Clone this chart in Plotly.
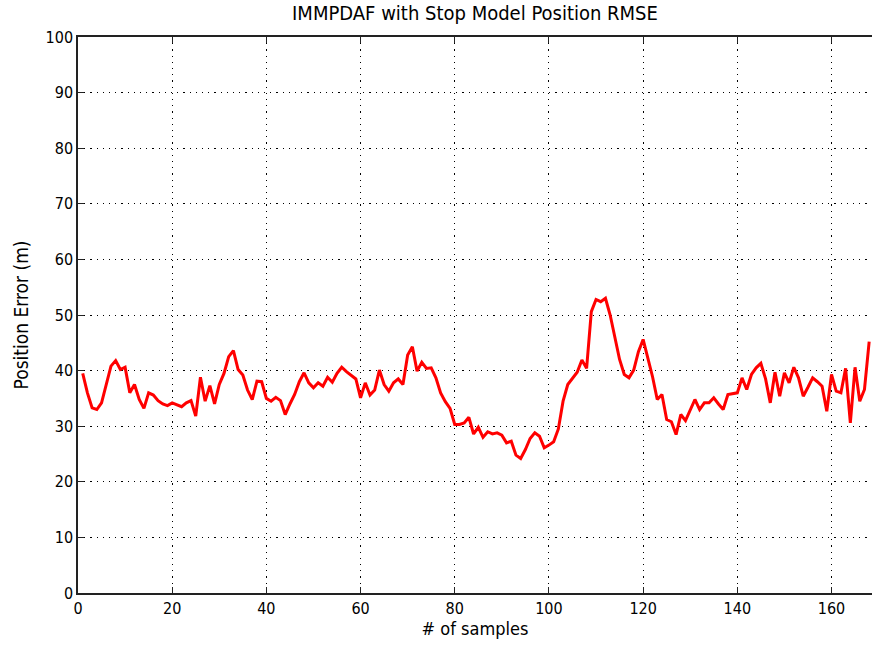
import plotly.graph_objects as go

# Position RMSE per sample for the IMMPDAF tracker with stop model
samples = list(range(1, 169))
rmse = [
    39.5, 36.0, 33.3, 33.0, 34.2, 37.5, 40.8, 41.8, 40.2, 40.6,
    36.0, 37.5, 34.8, 33.2, 36.0, 35.6, 34.6, 34.0, 33.7, 34.2,
    33.8, 33.5, 34.2, 34.6, 31.8, 38.8, 34.5, 37.3, 34.0, 37.5,
    39.5, 42.5, 43.6, 40.2, 39.2, 36.5, 34.8, 38.1, 38.0, 35.0,
    34.5, 35.2, 34.6, 32.1, 34.0, 35.7, 38.0, 39.6, 37.8, 36.9,
    37.8, 37.2, 38.8, 37.9, 39.5, 40.6, 39.8, 39.2, 38.5, 35.1,
    37.8, 35.6, 36.5, 40.1, 37.5, 36.3, 37.8, 38.5, 37.5, 42.8,
    44.3, 39.9, 41.5, 40.4, 40.5, 38.7, 36.0, 34.4, 33.2, 30.3,
    30.3, 30.6, 31.6, 28.6, 29.8, 28.0, 29.0, 28.6, 28.8, 28.4,
    27.0, 27.3, 24.8, 24.2, 25.8, 27.8, 28.8, 28.2, 26.1, 26.6,
    27.2, 29.5, 34.5, 37.5, 38.7, 39.7, 41.9, 40.4, 50.6, 52.8,
    52.4, 53.0, 50.0, 46.0, 42.0, 39.3, 38.7, 40.1, 43.4, 45.6,
    42.5, 38.9, 34.8, 35.7, 31.2, 30.8, 28.5, 32.1, 31.0, 33.0,
    34.8, 33.0, 34.2, 34.2, 35.1, 34.0, 33.0, 35.7, 35.8, 36.0,
    38.7, 36.6, 39.3, 40.5, 41.3, 38.5, 34.2, 39.7, 35.4, 39.6,
    37.8, 40.6, 38.7, 35.4, 37.0, 38.7, 38.0, 37.2, 32.7, 39.3,
    36.3, 36.0, 40.4, 30.6, 40.6, 34.5, 36.6, 45.2,
]

x_ticks = [0, 20, 40, 60, 80, 100, 120, 140, 160]
y_ticks = [0, 10, 20, 30, 40, 50, 60, 70, 80, 90, 100]

font_family = "DejaVu Sans Condensed, Liberation Sans Narrow, Liberation Sans, Arial"

fig = go.Figure(
    go.Scatter(
        x=samples,
        y=rmse,
        mode="lines",
        line=dict(color="#ff0000", width=3),
        showlegend=False,
    )
)

axis_common = dict(
    showline=True,
    linecolor="#222222",
    linewidth=1.5,
    ticks="inside",
    ticklen=6,
    tickcolor="#222222",
    showgrid=True,
    gridcolor="black",
    gridwidth=1.2,
    griddash="1.2px,5px",
    zeroline=False,
    tickfont=dict(family=font_family, size=16, color="black"),
)

# top border with ticks; the right border falls outside the visible page
fig.update_xaxes(
    range=[0, 168.6],
    tickvals=x_ticks,
    mirror="ticks",
    title=dict(text="# of samples", font=dict(family=font_family, size=18, color="black"), standoff=4),
    **axis_common,
)
fig.update_yaxes(
    range=[0, 100],
    tickvals=y_ticks,
    mirror=False,
    title=dict(text="Position Error (m)", font=dict(family=font_family, size=19, color="black"), standoff=12),
    **axis_common,
)

fig.update_layout(
    width=872,
    height=648,
    margin=dict(l=78, r=0, t=37, b=55),
    paper_bgcolor="white",
    plot_bgcolor="white",
    title=dict(
        text="IMMPDAF with Stop Model Position RMSE",
        x=0.5,
        xref="paper",
        y=1 - 13 / 648,
        yanchor="middle",
        font=dict(family=font_family, size=20, color="black"),
    ),
)

fig.write_html("out.html")
